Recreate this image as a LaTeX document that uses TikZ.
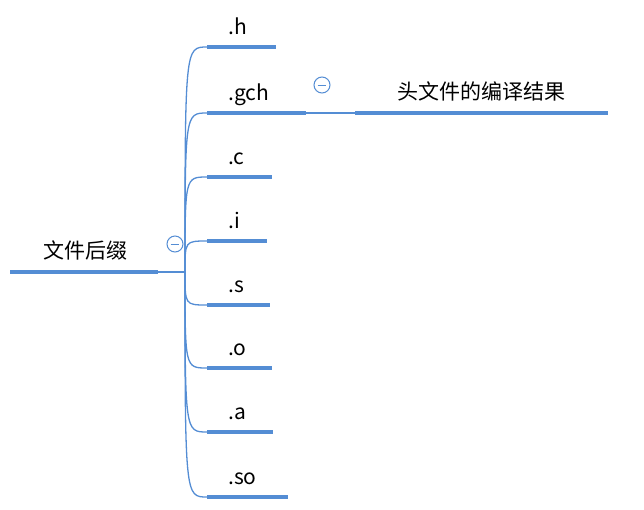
\documentclass[tikz,border=0pt]{standalone}
\usepackage{fontspec}
\setmainfont{Noto Sans CJK SC}
\begin{document}
\begin{tikzpicture}[x=1pt,y=-1pt,
  ul/.style={draw=blue!45!cyan!60!black!60, line width=4pt, color={rgb,255:red,84;green,141;blue,212}},
  br/.style={color={rgb,255:red,84;green,141;blue,212}, line width=1.3pt},
  lab/.style={font=\fontsize{21}{24}\selectfont, anchor=base west, inner sep=0pt},
  tog/.style={circle, draw={rgb,255:red,84;green,141;blue,212}, line width=1pt, minimum size=16pt, inner sep=0pt, fill=white}]
\useasboundingbox (0,0) rectangle (644,509);
% root
\coordinate (r0) at (10,272); \coordinate (r1) at (158,272); \coordinate (hub) at (185,272);
\draw[ul] (r0) -- (r1);
\draw[br] (r1) -- (hub);
\node[lab, anchor=base] (root) at (85,258) {文件后缀};
\node[tog] (t1) at (175,244) {};
\draw[br, line width=1pt] (t1.west)++(4pt,0) -- ++(8pt,0);
\foreach \n/\t/\y/\e in {h/.h/47/276, gch/.gch/113/306, c/.c/177/272, i/.i/241/267, s/.s/305/270, o/.o/368/272, a/.a/432/273, so/.so/497/288}{
  \coordinate (\n s) at (207,\y); \coordinate (\n e) at (\e,\y);
  \draw[ul] (\n s) -- (\n e);
  \draw[br] (hub) .. controls (185,\y) .. (\n s);
  \node[lab] (\n) at (228,\y-13) {\t};
}
\node[tog] (t2) at (322,85) {};
\draw[br, line width=1pt] (t2.west)++(4pt,0) -- ++(8pt,0);
\coordinate (g1) at (355,113); \coordinate (g2) at (608,113);
\draw[br] (gche) -- (g1);
\draw[ul] (g1) -- (g2);
\node[lab, anchor=base] (res) at (481,99) {头文件的编译结果};
\end{tikzpicture}
\end{document}
